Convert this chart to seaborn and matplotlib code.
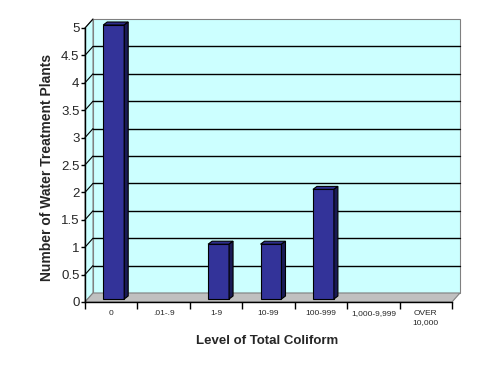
import numpy as np
import pandas as pd
import seaborn as sns
import matplotlib.pyplot as plt
from matplotlib.patches import Polygon
from matplotlib.lines import Line2D
from matplotlib.transforms import IdentityTransform, ScaledTranslation

# data
levels = ['0', '.01-.9', '1-9', '10-99', '100-999', '1,000-9,999', 'OVER\n10,000']
plants = [5, 0, 1, 1, 2, 0, 0]
yticks = [0, 0.5, 1, 1.5, 2, 2.5, 3, 3.5, 4, 4.5, 5]
ytick_labels = ['0', '0.5', '1', '1.5', '2', '2.5', '3', '3.5', '4', '4.5', '5']

df = pd.DataFrame({'level': levels, 'plants': plants})

sns.set_style('white')
plt.rcParams['font.family'] = ['Liberation Sans', 'DejaVu Sans']

W, H = 491, 374
fig = plt.figure(figsize=(W / 100, H / 100), dpi=100)
ax = fig.add_axes([85 / W, 1 - 302 / H, 367 / W, 274 / H])
ax.set_facecolor('none')

sns.barplot(data=df, x='level', y='plants', color='#333399', saturation=1,
            width=0.4, edgecolor='black', linewidth=0.8, ax=ax, zorder=5)
ax.set_xlim(-0.5, len(levels) - 0.5)
ax.set_ylim(0, 5)

# depth of the walls and of the bars, in pixels
DX, DY = 8, 9
bd, be = 4, 3
# bars stand in the middle of the floor, a little behind the front edge
sx, sy = 2.5, 3
ident = IdentityTransform()
bars = [p for p in ax.patches if p.get_zorder() == 5]
shift = ScaledTranslation(sx / 100, sy / 100, fig.dpi_scale_trans)
for p in bars:
    p.set_transform(ax.transData + shift)
    p.set_clip_on(False)
    if p.get_height() <= 0:
        p.set_visible(False)

(x0, y0), (x1, y1) = ax.transData.transform([(-0.5, 0), (len(levels) - 0.5, 5)])

def poly(pts, fc, ec, z, lw=0.8):
    ax.add_patch(Polygon(pts, closed=True, facecolor=fc, edgecolor=ec, lw=lw,
                         transform=ident, clip_on=False, zorder=z))

wall = '#ccffff'
poly([(x0 + DX, y0 + DY), (x1 + DX, y0 + DY), (x1 + DX, y1 + DY), (x0 + DX, y1 + DY)], wall, '#808080', 0)
poly([(x0, y0), (x0 + DX, y0 + DY), (x0 + DX, y1 + DY), (x0, y1)], wall, '#808080', 0)
poly([(x0, y0), (x1, y0), (x1 + DX, y0 + DY), (x0 + DX, y0 + DY)], '#c0c0c0', '#808080', 1)

for v in yticks[1:-1]:
    yv = ax.transData.transform((0, v))[1]
    ax.add_line(Line2D([x0 + DX, x1 + DX], [yv + DY, yv + DY], color='black', lw=1,
                       transform=ident, clip_on=False, zorder=2))
for v in yticks[1:]:
    yv = ax.transData.transform((0, v))[1]
    ax.add_line(Line2D([x0, x0 + DX], [yv, yv + DY], color='black', lw=0.8,
                       transform=ident, clip_on=False, zorder=2))

# 3-d faces of the bars
for p in bars:
    if p.get_height() <= 0:
        continue
    (bx0, by0), (bx1, by1) = ax.transData.transform(
        [(p.get_x(), 0), (p.get_x() + p.get_width(), p.get_height())])
    bx0, bx1, by0, by1 = bx0 + sx, bx1 + sx, by0 + sy, by1 + sy
    poly([(bx0, by1), (bx1, by1), (bx1 + bd, by1 + be), (bx0 + bd, by1 + be)], '#2e2e8c', 'black', 6)
    poly([(bx1, by0), (bx1 + bd, by0 + be), (bx1 + bd, by1 + be), (bx1, by1)], '#1a1a55', 'black', 6)

for s in ['top', 'right']:
    ax.spines[s].set_visible(False)
for s in ['left', 'bottom']:
    ax.spines[s].set_color('black')
    ax.spines[s].set_linewidth(1)
    ax.spines[s].set_zorder(3)

ax.set_yticks(yticks)
ax.set_yticklabels(ytick_labels, fontsize=9.5)
ax.tick_params(axis='y', length=3, width=1, pad=1, color='black', direction='out', left=True)
ax.set_xticks(range(len(levels)))
ax.set_xticklabels(levels, fontsize=6, linespacing=1.3)
ax.set_xticks(np.arange(-0.5, len(levels), 1), minor=True)
ax.tick_params(axis='x', which='major', length=0, pad=6)
ax.tick_params(axis='x', which='minor', length=5, width=1, color='black', direction='out', bottom=True)

ax.set_xlabel('Level of Total Coliform', fontsize=9.5, fontweight='bold')
ax.set_ylabel('Number of Water Treatment Plants', fontsize=10, fontweight='bold')
ax.xaxis.set_label_coords(0.496, -0.12)
ax.yaxis.set_label_coords(-0.085, 0.49)

fig.savefig('out.png', dpi=100, facecolor='white')
